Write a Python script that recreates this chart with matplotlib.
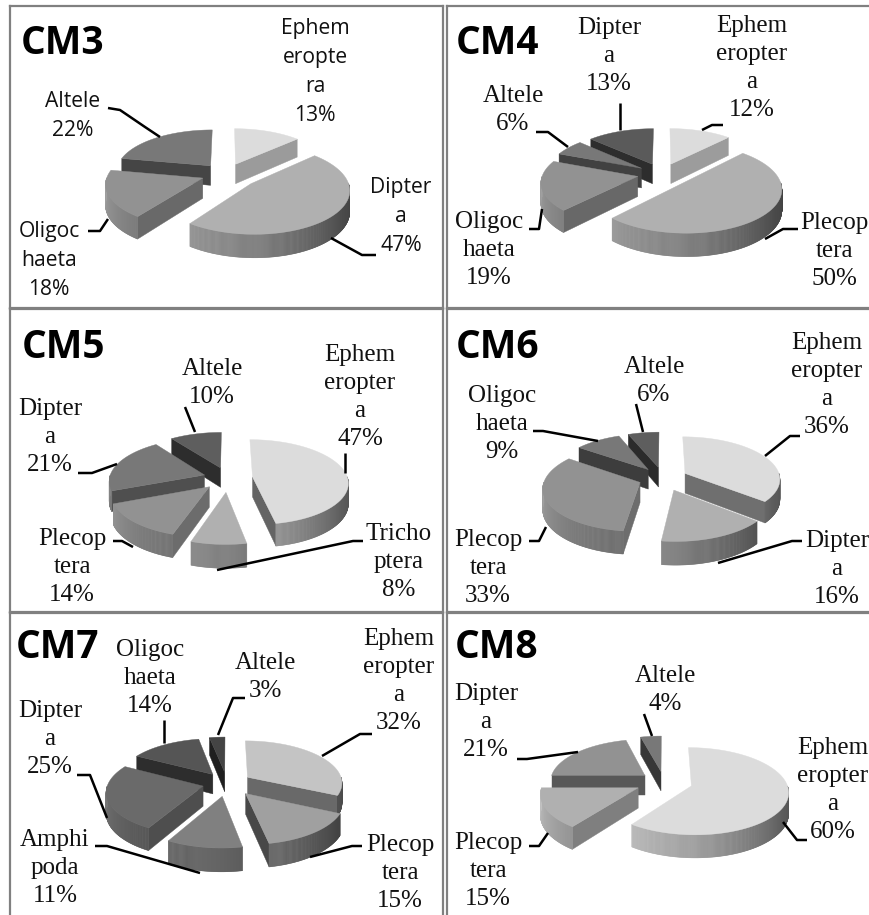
import numpy as np
import matplotlib
matplotlib.use('Agg')
import matplotlib.pyplot as plt
from matplotlib.collections import PolyCollection

# percentages per station, clockwise from 12 o'clock
cm3_labels = ['Ephem\neropte\nra', 'Dipter\na', 'Oligoc\nhaeta', 'Altele']
cm3_values = [13, 47, 18, 22]
cm4_labels = ['Ephem\neropter\na', 'Plecop\ntera', 'Oligoc\nhaeta', 'Altele', 'Dipter\na']
cm4_values = [12, 50, 19, 6, 13]
cm5_labels = ['Ephem\neropter\na', 'Tricho\nptera', 'Plecop\ntera', 'Dipter\na', 'Altele']
cm5_values = [47, 8, 14, 21, 10]
cm6_labels = ['Ephem\neropter\na', 'Dipter\na', 'Plecop\ntera', 'Oligoc\nhaeta', 'Altele']
cm6_values = [36, 16, 33, 9, 6]
cm7_labels = ['Ephem\neropter\na', 'Plecop\ntera', 'Amphi\npoda', 'Dipter\na', 'Oligoc\nhaeta', 'Altele']
cm7_values = [32, 15, 11, 25, 14, 3]
cm8_labels = ['Ephem\neropter\na', 'Plecop\ntera', 'Dipter\na', 'Altele']
cm8_values = [60, 15, 21, 4]

W, H = 870, 915
PERSP = 0.12
DEPTH = 20

# panel box, pie centre, title position, font, slice greys, label centres, leader lines
panels = [
    dict(name='CM3', box=(10, 6, 443, 308), c=(226, 174), title=(63, 44), font='Open Sans', size=15.2, ls=1.5,
         labels=cm3_labels, values=cm3_values, explode=[.26, .34, .26, .26],
         grey=['#dcdcdc', '#b0b0b0', '#929292', '#787878'],
         pos=[(315, 72), (401, 217), (49, 261), (73, 116)],
         lead=[[], [(331, 238), (362, 255), (376, 255)], [(88, 231), (100, 231), (108, 219)],
               [(108, 108), (120, 110), (145, 127), (160, 137)]]),
    dict(name='CM4', box=(447, 6, 880, 308), c=(662, 174), title=(497, 44), font='Liberation Serif', size=18, ls=1.36,
         labels=cm4_labels, values=cm4_values, explode=[.26, .3, .26, .26, .26],
         grey=['#dcdcdc', '#b0b0b0', '#929292', '#787878', '#5a5a5a'],
         pos=[(752, 68), (834, 251), (489, 250), (513, 110), (609, 56)],
         lead=[[(702, 130), (712, 125), (723, 125)], [(798, 229), (783, 229), (765, 239)],
               [(529, 229), (539, 229), (542, 209)], [(536, 132), (548, 132), (568, 147)],
               [(620, 103), (620, 130)]]),
    dict(name='CM5', box=(10, 309, 443, 612), c=(228, 478), title=(63, 348), font='Liberation Serif', size=18, ls=1.36,
         labels=cm5_labels, values=cm5_values, explode=[.26, .33, .28, .26, .26],
         grey=['#dcdcdc', '#b0b0b0', '#929292', '#787878', '#5e5e5e'],
         pos=[(360, 397), (399, 562), (72, 567), (50, 437), (212, 383)],
         lead=[[(345, 453), (345, 473)], [(363, 541), (353, 541), (217, 570)],
               [(113, 541), (122, 541), (133, 547)], [(78, 473), (92, 473), (117, 464)],
               [(185, 407), (195, 432)]]),
    dict(name='CM6', box=(447, 309, 880, 612), c=(663, 478), title=(498, 348), font='Liberation Serif', size=18, ls=1.36,
         labels=cm6_labels, values=cm6_values, explode=[.26, .3, .26, .26, .26],
         grey=['#dcdcdc', '#b0b0b0', '#929292', '#787878', '#5e5e5e'],
         pos=[(827, 385), (837, 569), (488, 568), (502, 424), (654, 381)],
         lead=[[(800, 436), (790, 436), (765, 456)], [(802, 541), (792, 541), (718, 563)],
               [(529, 541), (539, 541), (546, 527)], [(533, 431), (543, 431), (598, 441)],
               [(636, 404), (643, 432)]]),
    dict(name='CM7', box=(10, 613, 443, 930), c=(227, 783), title=(58, 647), font='Liberation Serif', size=18, ls=1.36,
         labels=cm7_labels, values=cm7_values, explode=[.26, .31, .31, .26, .26, .26],
         grey=['#c4c4c4', '#a0a0a0', '#808080', '#6a6a6a', '#555555', '#444444'],
         pos=[(399, 681), (400, 873), (55, 868), (50, 739), (150, 678), (265, 677)],
         lead=[[(372, 734), (360, 734), (322, 756)], [(362, 846), (352, 846), (310, 857)],
               [(95, 846), (107, 846), (200, 873)], [(77, 775), (90, 775), (107, 818)],
               [(164, 720), (164, 743)], [(245, 698), (233, 698), (218, 735)]]),
    dict(name='CM8', box=(447, 613, 880, 930), c=(664, 782), title=(497, 647), font='Liberation Serif', size=18, ls=1.36,
         labels=cm8_labels, values=cm8_values, explode=[.3, .3, .26, .26],
         grey=['#dcdcdc', '#b0b0b0', '#929292', '#787878'],
         pos=[(833, 790), (488, 871), (486, 722), (665, 690)],
         lead=[[(807, 840), (797, 840), (783, 822)], [(529, 846), (539, 846), (548, 833)],
               [(517, 759), (527, 759), (578, 752)], [(644, 714), (652, 736)]]),
]


# flat pie plane to screen, with a little perspective towards the viewer
def project(u, v, c, rx=95, ry=42):
    w = 1 / (1 + PERSP * v)
    return c[0] + rx * u * w, c[1] - ry * v * w, w


def shade(col, f):
    rgb = np.array(matplotlib.colors.to_rgb(col)) * f
    return tuple(np.clip(rgb, 0, 1))


def draw_slice(ax, c, a0, a1, ex, col):
    mid = np.radians((a0 + a1) / 2)
    ou, ov = ex * np.sin(mid), ex * np.cos(mid)
    t = np.radians(np.linspace(a0, a1, max(int(a1 - a0) * 2, 4)))
    u = ou + np.sin(t)
    v = ov + np.cos(t)
    sx, sy, w = project(u, v, c)
    ax_, ay_, aw = project(ou, ov, c)

    # cut faces on the two straight edges
    for ang, sign, i in ((a0, -1, 0), (a1, 1, -1)):
        r = np.radians(ang)
        nx, nv = sign * np.cos(r), -sign * np.sin(r)
        if nv < 0:
            f = 0.6 + 0.15 * nx
            poly = [(ax_, ay_), (sx[i], sy[i]), (sx[i], sy[i] + DEPTH * w[i]), (ax_, ay_ + DEPTH * aw)]
            ax.fill(*zip(*poly), color=shade(col, f), lw=0.3, zorder=3)

    # outer rim, lighter on the left and dark towards the right
    quads, cols = [], []
    for i in range(len(t) - 1):
        am = np.degrees((t[i] + t[i + 1]) / 2) % 360
        if 90 < am < 270:
            quads.append([(sx[i], sy[i]), (sx[i + 1], sy[i + 1]),
                          (sx[i + 1], sy[i + 1] + DEPTH * w[i + 1]), (sx[i], sy[i] + DEPTH * w[i])])
            cols.append(shade(col, np.interp(am, [90, 120, 180, 216, 270], [.36, .42, .72, .84, 1.1])))
    if quads:
        ax.add_collection(PolyCollection(quads, facecolors=cols, edgecolors=cols, linewidths=0.4, zorder=3))

    # top face
    ax.fill(np.r_[ax_, sx], np.r_[ay_, sy], color=col, lw=0.3, zorder=3)


fig = plt.figure(figsize=(W / 100, H / 100), dpi=100)

for p in panels:
    x0, y0, x1, y1 = p['box']
    ax = fig.add_axes([x0 / W, 1 - y1 / H, (x1 - x0) / W, (y1 - y0) / H])
    ax.set_xlim(x0, x1)
    ax.set_ylim(y1, y0)
    ax.set_xticks([])
    ax.set_yticks([])
    for s in ax.spines.values():
        s.set_color('#808080')
        s.set_linewidth(1.6)

    values = np.array(p['values'], dtype=float)
    edges = np.r_[0, np.cumsum(values)] / values.sum() * 360
    mids = (edges[:-1] + edges[1:]) / 2

    # draw from the back of the pie to the front
    order = np.argsort(-np.cos(np.radians(mids)))
    for i in order:
        draw_slice(ax, p['c'], edges[i], edges[i + 1], p['explode'][i], p['grey'][i])

    for i in range(len(values)):
        ax.text(p['pos'][i][0], p['pos'][i][1], f"{p['labels'][i]}\n{p['values'][i]}%", ha='center', va='center',
                family=p['font'], fontsize=p['size'], linespacing=p['ls'], color='#111111', zorder=5)
        if p['lead'][i]:
            lx, ly = zip(*p['lead'][i])
            ax.plot(lx, ly, color='black', lw=1.8, zorder=4, solid_capstyle='butt')

    ax.text(p['title'][0], p['title'][1], p['name'], ha='center', va='center', family='Open Sans',
            fontweight='bold', fontsize=28, color='black', zorder=5)

fig.savefig('out.png', dpi=100)
